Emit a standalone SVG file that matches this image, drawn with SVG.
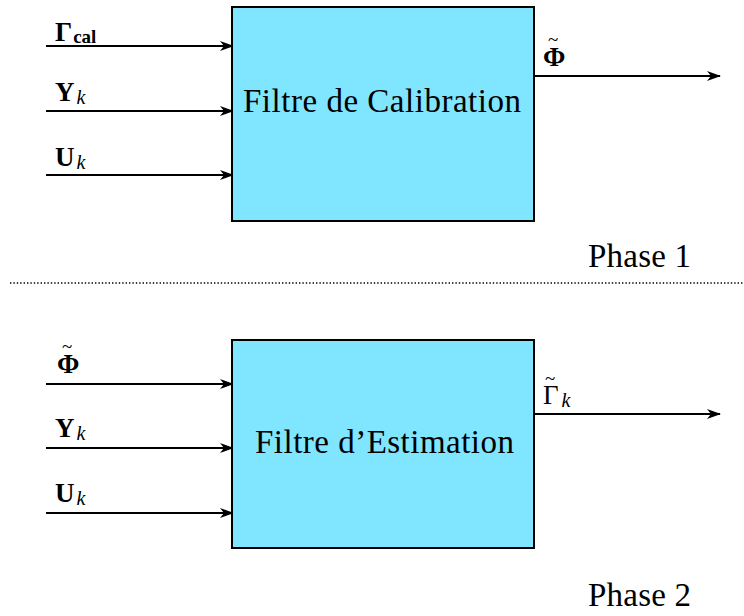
<svg xmlns="http://www.w3.org/2000/svg" width="744" height="616" viewBox="0 0 744 616">
<style>
.box{fill:#80e5ff;stroke:#000;stroke-width:2}
.ln{stroke:#000;stroke-width:2;fill:none;marker-end:url(#ah)}
.t{font-family:"Liberation Serif","DejaVu Serif",serif;font-size:27px;fill:#000}
.big{font-size:33px}
.ph{font-size:33px}
.b{font-weight:bold}
.i{font-style:italic;font-size:20px;font-weight:normal}
.s{font-weight:bold;font-size:19px}
.tl{font-size:19px;font-weight:normal}
</style>
<defs>
<marker id="ah" viewBox="0 0 14 10" refX="13" refY="5" markerWidth="14" markerHeight="10" markerUnits="userSpaceOnUse" orient="auto">
<path d="M0,0 L14,5 L0,10 L4,5 Z" fill="#000"/>
</marker>
</defs>
<rect width="744" height="616" fill="#fff"/>
<g id="connectors">
<line class="ln" x1="46" y1="46" x2="233" y2="46"/>
<line class="ln" x1="46" y1="111" x2="233" y2="111"/>
<line class="ln" x1="46" y1="175" x2="233" y2="175"/>
<line class="ln" x1="534" y1="76" x2="720" y2="76"/>
<line class="ln" x1="46" y1="384" x2="233" y2="384"/>
<line class="ln" x1="46" y1="448" x2="233" y2="448"/>
<line class="ln" x1="46" y1="513" x2="233" y2="513"/>
<line class="ln" x1="534" y1="414" x2="720" y2="414"/>
</g>
<g id="node-calibration">
<rect class="box" x="232" y="7" width="302" height="214"/>
<text class="t big" x="243" y="112" textLength="278" lengthAdjust="spacing">Filtre de Calibration</text>
</g>
<g id="node-estimation">
<rect class="box" x="232" y="340" width="302" height="208"/>
<text class="t big" x="255" y="453" textLength="259" lengthAdjust="spacing">Filtre d’Estimation</text>
</g>
<g id="labels">
<text class="t b" x="55" y="41">Γ<tspan class="s" dx="1" dy="2">cal</tspan></text>
<text class="t b" x="55" y="101">Y<tspan class="i" dx="2" dy="3">k</tspan></text>
<text class="t b" x="55" y="166">U<tspan class="i" dx="2" dy="3">k</tspan></text>
<text class="t b" x="543" y="66">Φ<tspan class="tl" x="548" y="46">~</tspan></text>
<text class="t b" x="57" y="373">Φ<tspan class="tl" x="62" y="353">~</tspan></text>
<text class="t b" x="55" y="437">Y<tspan class="i" dx="2" dy="3">k</tspan></text>
<text class="t b" x="55" y="502">U<tspan class="i" dx="2" dy="3">k</tspan></text>
<text class="t" x="543" y="404">Γ<tspan class="i" dx="3" dy="3">k</tspan><tspan class="tl" x="545" y="385">~</tspan></text>
<text class="t ph" x="588" y="267" textLength="103" lengthAdjust="spacing">Phase 1</text>
<text class="t ph" x="588" y="606" textLength="103" lengthAdjust="spacing">Phase 2</text>
</g>
<line x1="10" y1="283" x2="744" y2="283" stroke="#000" stroke-width="1.6" stroke-dasharray="1.4,2"/>
</svg>
